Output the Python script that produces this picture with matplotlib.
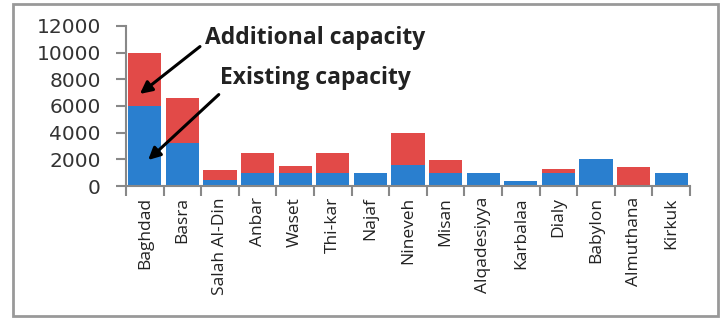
import matplotlib
matplotlib.use('Agg')
import matplotlib.pyplot as plt
from matplotlib.patches import Rectangle
import numpy as np

plt.rcParams['font.family'] = ['Open Sans', 'DejaVu Sans']

# governorates and capacities
provinces = ['Baghdad', 'Basra', 'Salah Al-Din', 'Anbar', 'Waset', 'Thi-kar', 'Najaf',
             'Nineveh', 'Misan', 'Alqadesiyya', 'Karbalaa', 'Dialy', 'Babylon',
             'Almuthana', 'Kirkuk']
existing = [6000, 3200, 450, 1000, 1000, 1000, 1000, 1550, 1000, 1000, 350, 1000, 2000, 0, 1000]
additional = [4000, 3400, 750, 1450, 500, 1450, 0, 2450, 950, 0, 0, 250, 0, 1450, 0]
yticks = [0, 2000, 4000, 6000, 8000, 10000, 12000]

blue = '#2a7fcf'
red = '#e24a48'

fig = plt.figure(figsize=(7.24, 3.23), dpi=100)
ax = fig.add_axes([0.174, 0.424, 0.779, 0.496])

x = np.arange(len(provinces))
ax.bar(x, existing, width=0.88, color=blue)
ax.bar(x, additional, width=0.88, bottom=existing, color=red)

ax.set_xlim(-0.5, len(provinces) - 0.5)
ax.set_ylim(0, 12000)
ax.set_yticks(yticks)
ax.set_yticklabels([str(v) for v in yticks], fontsize=14.5, color='#333333',
                   family=['DejaVu Sans'])
ax.set_xticks(x)
ax.set_xticklabels(provinces, rotation=90, fontsize=12.5, color='#222222')
ax.set_xticks(np.arange(-0.5, len(provinces)), minor=True)
ax.tick_params(axis='x', which='major', length=0, pad=8)
ax.tick_params(axis='x', which='minor', length=7, color='#888888', width=1.5)
ax.tick_params(axis='y', length=7, color='#888888', width=1.5, pad=11)

for s in ['top', 'right']:
    ax.spines[s].set_visible(False)
for s in ['left', 'bottom']:
    ax.spines[s].set_color('#888888')
    ax.spines[s].set_linewidth(1.5)

arrow = dict(arrowstyle='-|>', color='black', lw=2.2, mutation_scale=18, shrinkA=2, shrinkB=0)
ax.annotate('Additional capacity', xy=(-0.13, 6900), xytext=(1.6, 11100),
            fontsize=16.5, fontweight='bold', color='#222222', va='center', ha='left',
            arrowprops=dict(arrow, relpos=(0, 0.3)))
ax.annotate('Existing capacity', xy=(0.09, 1950), xytext=(2.0, 8100),
            fontsize=16.5, fontweight='bold', color='#222222', va='center', ha='left',
            arrowprops=dict(arrow, relpos=(0.02, 0)))

fig.patches.append(Rectangle((13 / 724, 1 - 316 / 323), 705 / 724, 312 / 323,
                             transform=fig.transFigure, fill=False,
                             edgecolor='#999999', lw=2))

fig.savefig('out.png', dpi=100)
